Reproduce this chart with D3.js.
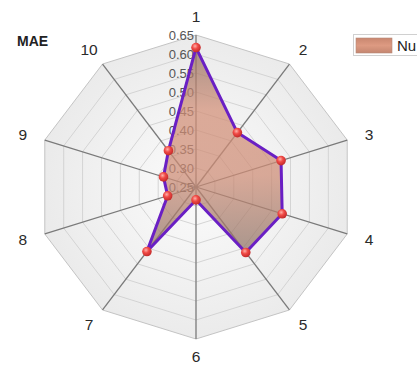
<!DOCTYPE html>
<html>
<head>
<meta charset="utf-8">
<script src="https://cdn.jsdelivr.net/npm/d3@7"></script>
<style>
  html, body { margin: 0; padding: 0; background: #ffffff; }
  svg { display: block; font-family: "Liberation Sans", Arial, sans-serif; }
</style>
</head>
<body>
<svg id="chart" width="417" height="373"></svg>
<script>
// Radar chart of MAE for ten cases
const axesLabels = ["1", "2", "3", "4", "5", "6", "7", "8", "9", "10"];
const maeValues = [0.617, 0.427, 0.475, 0.478, 0.463, 0.284, 0.46, 0.325, 0.336, 0.368];
const tickValues = [0.25, 0.30, 0.35, 0.40, 0.45, 0.50, 0.55, 0.60, 0.65];
const tickLabels = ["0.25", "0.30", "0.35", "0.40", "0.45", "0.50", "0.55", "0.60", "0.65"];
const seriesName = "Nu";
const chartTitle = "MAE";

const svg = d3.select("#chart");
const cx = 196, cy = 187;
const RX = 159, RY = 152;
const n = axesLabels.length;

const r = d3.scaleLinear().domain([0.25, 0.65]).range([0, 1]);
const angle = d3.scaleLinear().domain([0, n]).range([0, 2 * Math.PI]);

function pt(i, v) {
  const a = angle(i), f = r(v);
  return [cx + RX * f * Math.sin(a), cy - RY * f * Math.cos(a)];
}

const defs = svg.append("defs");

// grid background shading
const bg = defs.append("radialGradient").attr("id", "bgGrad")
  .attr("gradientUnits", "userSpaceOnUse")
  .attr("cx", cx).attr("cy", cy).attr("r", RX);
bg.append("stop").attr("offset", 0).attr("stop-color", "#fbfbfb");
bg.append("stop").attr("offset", 1).attr("stop-color", "#eaeaea");

// area fill shading
const ag = defs.append("linearGradient").attr("id", "areaGrad")
  .attr("gradientUnits", "userSpaceOnUse")
  .attr("x1", 0).attr("y1", 40).attr("x2", 0).attr("y2", 258);
ag.append("stop").attr("offset", 0).attr("stop-color", "#86675a");
ag.append("stop").attr("offset", 0.32).attr("stop-color", "#d28e76");
ag.append("stop").attr("offset", 0.62).attr("stop-color", "#cd8b74");
ag.append("stop").attr("offset", 1).attr("stop-color", "#887064");

// marker sphere shading
const mg = defs.append("radialGradient").attr("id", "dotGrad")
  .attr("cx", "40%").attr("cy", "35%").attr("r", "65%");
mg.append("stop").attr("offset", 0).attr("stop-color", "#ffb0a8");
mg.append("stop").attr("offset", 0.45).attr("stop-color", "#f04a45");
mg.append("stop").attr("offset", 1).attr("stop-color", "#c22a2a");

// legend swatch shading
const lg = defs.append("linearGradient").attr("id", "legGrad")
  .attr("x1", 0).attr("y1", 0).attr("x2", 0).attr("y2", 1);
lg.append("stop").attr("offset", 0).attr("stop-color", "#c98770");
lg.append("stop").attr("offset", 0.5).attr("stop-color", "#dd9a82");
lg.append("stop").attr("offset", 1).attr("stop-color", "#c48670");

const ringPath = v => d3.line()(d3.range(n).map(i => pt(i, v))) + "Z";

// background polygon
svg.append("path").attr("d", ringPath(0.65))
  .attr("fill", "url(#bgGrad)").attr("stroke", "#c4c4c4").attr("stroke-width", 1);

// rings
svg.append("g").selectAll("path").data(tickValues.slice(1, -1)).join("path")
  .attr("d", d => ringPath(d))
  .attr("fill", "none").attr("stroke", "#d0d0d0").attr("stroke-width", 0.9);

// spokes
svg.append("g").selectAll("line").data(axesLabels).join("line")
  .attr("x1", cx).attr("y1", cy)
  .attr("x2", (d, i) => pt(i, 0.65)[0]).attr("y2", (d, i) => pt(i, 0.65)[1])
  .attr("stroke", "#7a7a7a").attr("stroke-width", 1.3);

// axis labels
const LRX = 182, LRY = 170;
svg.append("g").selectAll("text").data(axesLabels).join("text")
  .attr("x", (d, i) => cx + LRX * Math.sin(angle(i)))
  .attr("y", (d, i) => cy - LRY * Math.cos(angle(i)))
  .attr("dy", "0.35em").attr("text-anchor", "middle")
  .attr("font-size", 15.5).attr("fill", "#2a2a2a")
  .text(d => d);

// tick labels, seen through the translucent area
svg.append("g").selectAll("text").data(tickValues).join("text")
  .attr("x", cx - 2).attr("y", d => cy - RY * r(d))
  .attr("dy", "0.35em").attr("text-anchor", "end")
  .attr("font-size", 13).attr("fill", "#555555")
  .text((d, i) => tickLabels[i]);

// data area
const pts = maeValues.map((v, i) => pt(i, v));
svg.append("path").attr("d", d3.line()(pts) + "Z")
  .attr("fill", "url(#areaGrad)").attr("fill-opacity", 0.72)
  .attr("stroke", "#6a1fc4").attr("stroke-width", 3).attr("stroke-linejoin", "round");

// markers
svg.append("g").selectAll("circle").data(pts).join("circle")
  .attr("cx", d => d[0]).attr("cy", d => d[1]).attr("r", 4.8)
  .attr("fill", "url(#dotGrad)");

// title
svg.append("text").attr("x", 17).attr("y", 46)
  .attr("font-size", 14).attr("font-weight", "bold").attr("fill", "#222")
  .text(chartTitle);

// legend
const leg = svg.append("g");
leg.append("rect").attr("x", 353.5).attr("y", 34.5).attr("width", 80).attr("height", 21)
  .attr("fill", "#fff").attr("stroke", "#d0d0d0");
leg.append("rect").attr("x", 356).attr("y", 38).attr("width", 36).attr("height", 15)
  .attr("fill", "url(#legGrad)").attr("stroke", "#b58a7a").attr("stroke-width", 0.6);
leg.append("text").attr("x", 397).attr("y", 51)
  .attr("font-size", 15).attr("fill", "#222").text(seriesName);
</script>
</body>
</html>
